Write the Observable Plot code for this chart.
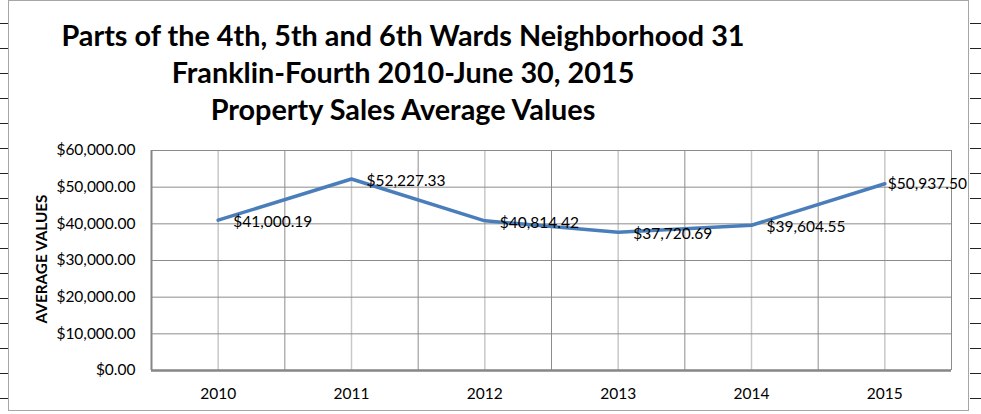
<!DOCTYPE html>
<html>
<head>
<meta charset="utf-8">
<script src="https://cdn.jsdelivr.net/npm/d3@7"></script>
<script src="https://cdn.jsdelivr.net/npm/@observablehq/plot@0.6"></script>
<style>
  html, body { margin: 0; padding: 0; background: #fff; }
  #wrap { position: relative; width: 981px; height: 414px; overflow: hidden; font-family: Lato, "Open Sans", sans-serif; }
  #frame { position: absolute; left: 8px; top: 0px; width: 961px; height: 411px; border: 1.5px solid #a6a6a6; box-sizing: border-box; }
  .cell { position: absolute; height: 1px; background: #222; }
  #title { position: absolute; left: 0; width: 806px; top: 17px; text-align: center; font-weight: 700; font-size: 28.8px; line-height: 37px; color: #000; }
  #ylab { position: absolute; left: 41px; top: 259px; transform: translate(-50%, -50%) rotate(-90deg); font-weight: 700; font-size: 15.3px; white-space: nowrap; color: #000; }
  #chart { position: absolute; left: 0; top: 0; }
</style>
</head>
<body>
<div id="wrap">
  <div id="frame"></div>
  <div id="title">Parts of the 4th, 5th and 6th Wards Neighborhood 31<br>Franklin-Fourth 2010-June 30, 2015<br>Property Sales Average Values</div>
  <div id="ylab">AVERAGE VALUES</div>
  <div id="chart"></div>
</div>
<script>
const years = [2010, 2011, 2012, 2013, 2014, 2015];
const values = [41000.19, 52227.33, 40814.42, 37720.69, 39604.55, 50937.50];
const yTicks = [0, 10000, 20000, 30000, 40000, 50000, 60000];

const data = years.map((yr, i) => ({year: yr, value: values[i]}));
const bounds = [years[0] - 0.5, ...years.map(y => y + 0.5)];
const money = d3.format("$,.2f");

// spreadsheet cell lines outside the chart frame
const wrap = document.getElementById("wrap");
for (let y = 23; y < 414; y += 25) {
  for (const [l, w] of [[0, 8], [970, 11]]) {
    const d = document.createElement("div");
    d.className = "cell";
    d.style.left = l + "px"; d.style.top = y + "px"; d.style.width = w + "px";
    wrap.appendChild(d);
  }
}

const chart = Plot.plot({
  width: 981,
  height: 414,
  marginLeft: 151,
  marginRight: 30,
  marginTop: 150,
  marginBottom: 44,
  style: {fontFamily: "Lato, 'Open Sans', sans-serif", fontSize: "15.5px", background: "transparent", color: "#000"},
  x: {domain: [bounds[0], bounds[bounds.length - 1]]},
  y: {domain: [0, 60000]},
  marks: [
    Plot.ruleX(years, {stroke: "#c8c8c8", strokeWidth: 1.5}),
    Plot.ruleX(bounds, {stroke: "#8c8c8c", strokeWidth: 1}),
    Plot.ruleY(yTicks, {stroke: "#8c8c8c", strokeWidth: 1}),
    Plot.ruleX([bounds[0]], {stroke: "#868686", strokeWidth: 2}),
    Plot.ruleY([0], {stroke: "#868686", strokeWidth: 2.5}),
    Plot.axisY(yTicks, {tickSize: 0, tickPadding: 16, tickFormat: money, fill: "#000", label: null}),
    Plot.axisX(years, {tickSize: 0, tickPadding: 17, tickFormat: d => String(d), fill: "#000", label: null}),
    Plot.line(data, {x: "year", y: "value", stroke: "#4a7ebb", strokeWidth: 3.5, strokeLinejoin: "round", strokeLinecap: "round"}),
    Plot.text(data.slice(0, -1), {x: "year", y: "value", text: d => money(d.value), textAnchor: "start", dx: 15, dy: 2, fill: "#000", fontSize: 15.5}),
    Plot.text(data.slice(-1), {x: "year", y: "value", text: d => money(d.value), textAnchor: "start", dx: 3, dy: 0, fill: "#000", fontSize: 15.5})
  ]
});
document.getElementById("chart").appendChild(chart);
</script>
</body>
</html>
